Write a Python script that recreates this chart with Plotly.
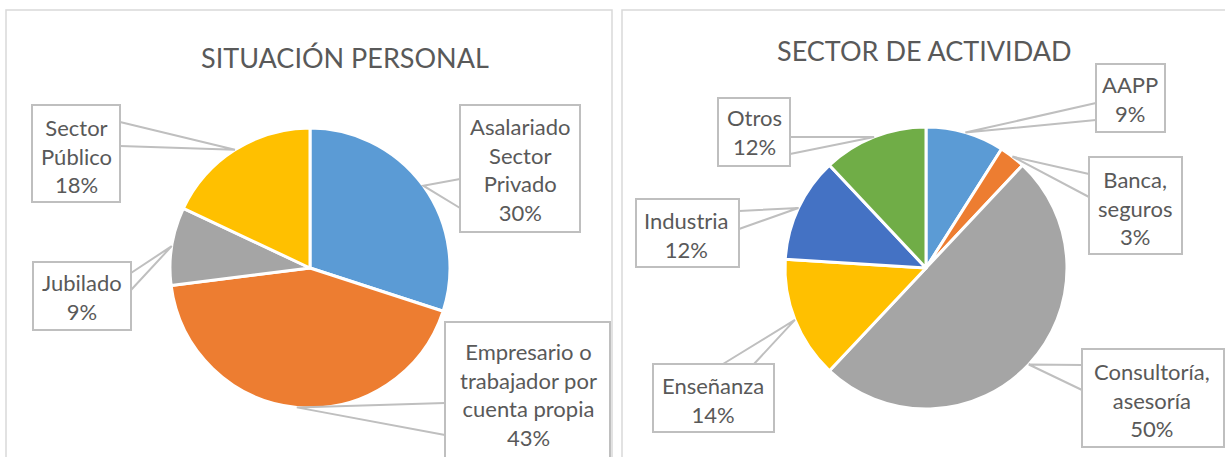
import math
import plotly.graph_objects as go

# ── Data ──────────────────────────────────────
sit_labels = ["Asalariado<br>Sector<br>Privado",
              "Empresario o<br>trabajador por<br>cuenta propia",
              "Jubilado",
              "Sector<br>Público"]
sit_values = [30, 43, 9, 18]
sit_colors = ["#5B9BD5", "#ED7D31", "#A5A5A5", "#FFC000"]

sec_labels = ["AAPP", "Banca,<br>seguros", "Consultoría,<br>asesoría",
              "Enseñanza", "Industria", "Otros"]
sec_values = [9, 3, 50, 14, 12, 12]
sec_colors = ["#5B9BD5", "#ED7D31", "#A5A5A5", "#FFC000", "#4472C4", "#70AD47"]

W, H = 1225, 457
FONT = "Lato, 'Open Sans', sans-serif"
TXT = "#595959"
LINE = "#BFBFBF"

# ── Layout of the callouts (pixels): box rect, attach points, text centre
sit_callouts = [
    dict(box=(460, 105, 580, 232), pts=[(460, 179), (460, 208)], txt=(520, 170)),
    dict(box=(445, 322, 610, 475), pts=[(445, 403), (445, 435)], txt=(528, 394)),
    dict(box=(33, 262, 131, 330), pts=[(131, 273), (131, 290)], txt=(82, 297)),
    dict(box=(32, 105, 120, 202), pts=[(120, 122), (120, 146)], txt=(76, 156)),
]
sec_callouts = [
    dict(box=(1096, 64, 1165, 132), pts=[(1096, 103), (1096, 120)], txt=(1130, 99)),
    dict(box=(1089, 157, 1182, 254), pts=[(1089, 174), (1089, 197)], txt=(1135, 208)),
    dict(box=(1082, 349, 1224, 447), pts=[(1082, 365), (1082, 390)], txt=(1152, 400)),
    dict(box=(653, 364, 774, 432), pts=[(723, 364), (754, 364)], txt=(713, 400)),
    dict(box=(636, 199, 739, 267), pts=[(739, 211), (739, 229)], txt=(687, 235)),
    dict(box=(718, 98, 790, 166), pts=[(790, 137), (790, 154)], txt=(754, 132)),
]


def px(x):
    return x / W


def py(y):
    return 1 - y / H


def mid_points(values, cx, cy, r):
    """Point on the rim at the middle angle of each slice (clockwise from 12h)."""
    total = sum(values)
    out, cum = [], 0
    for v in values:
        a = math.radians((cum + v / 2) / total * 360)
        out.append((cx + r * math.sin(a), cy - r * math.cos(a)))
        cum += v
    return out


fig = go.Figure()
shapes, annotations = [], []

charts = [
    dict(title="SITUACIÓN PERSONAL", title_pos=(345, 58), labels=sit_labels,
         values=sit_values, colors=sit_colors, centre=(310, 268), r=140,
         callouts=sit_callouts, panel=(6, 10, 612, 470)),
    dict(title="SECTOR DE ACTIVIDAD", title_pos=(925, 50), labels=sec_labels,
         values=sec_values, colors=sec_colors, centre=(926, 268), r=141,
         callouts=sec_callouts, panel=(622, 10, 1240, 470)),
]

for ch in charts:
    x0, y0, x1, y1 = ch["panel"]
    shapes.append(dict(type="rect", xref="paper", yref="paper",
                       x0=px(x0), x1=px(x1), y0=py(y1), y1=py(y0),
                       line=dict(color="#D9D9D9", width=1.5), layer="below"))
    cx, cy = ch["centre"]
    r = ch["r"]
    fig.add_trace(go.Pie(
        labels=[l.replace("<br>", " ") for l in ch["labels"]],
        values=ch["values"],
        sort=False, direction="clockwise", rotation=0,
        marker=dict(colors=ch["colors"], line=dict(color="white", width=3)),
        textinfo="none", hoverinfo="label+percent", showlegend=False,
        domain=dict(x=[px(cx - r), px(cx + r)], y=[py(cy + r), py(cy - r)]),
    ))
    annotations.append(dict(text=ch["title"], x=px(ch["title_pos"][0]),
                            y=py(ch["title_pos"][1]), xref="paper", yref="paper",
                            showarrow=False, xanchor="center", yanchor="middle",
                            font=dict(family=FONT, size=27, color=TXT)))
    total = sum(ch["values"])
    tips = mid_points(ch["values"], cx, cy, r)
    for lab, v, tip, co in zip(ch["labels"], ch["values"], tips, ch["callouts"]):
        (a, b), (c, d) = co["pts"]
        shapes.append(dict(type="path", xref="paper", yref="paper",
                           path=f"M{px(a)},{py(b)} L{px(tip[0])},{py(tip[1])} L{px(c)},{py(d)}",
                           line=dict(color=LINE, width=2)))
        bx0, by0, bx1, by1 = co["box"]
        shapes.append(dict(type="rect", xref="paper", yref="paper",
                           x0=px(bx0), x1=px(bx1), y0=py(by1), y1=py(by0),
                           line=dict(color=LINE, width=2), fillcolor="white"))
        annotations.append(dict(text=f"{lab}<br>{v / total * 100:.0f}%",
                                x=px(co["txt"][0]), y=py(co["txt"][1]),
                                xref="paper", yref="paper", showarrow=False,
                                xanchor="center", yanchor="middle", align="center",
                                font=dict(family=FONT, size=22, color=TXT)))

fig.update_layout(
    width=W, height=H,
    margin=dict(l=0, r=0, t=0, b=0),
    paper_bgcolor="white", plot_bgcolor="white",
    shapes=shapes, annotations=annotations,
)

# drop the browser's default 8px body margin so the figure sits at (0, 0)
fig.write_html("out.html", config={"displayModeBar": False},
               post_script="document.body.style.margin='0';")
